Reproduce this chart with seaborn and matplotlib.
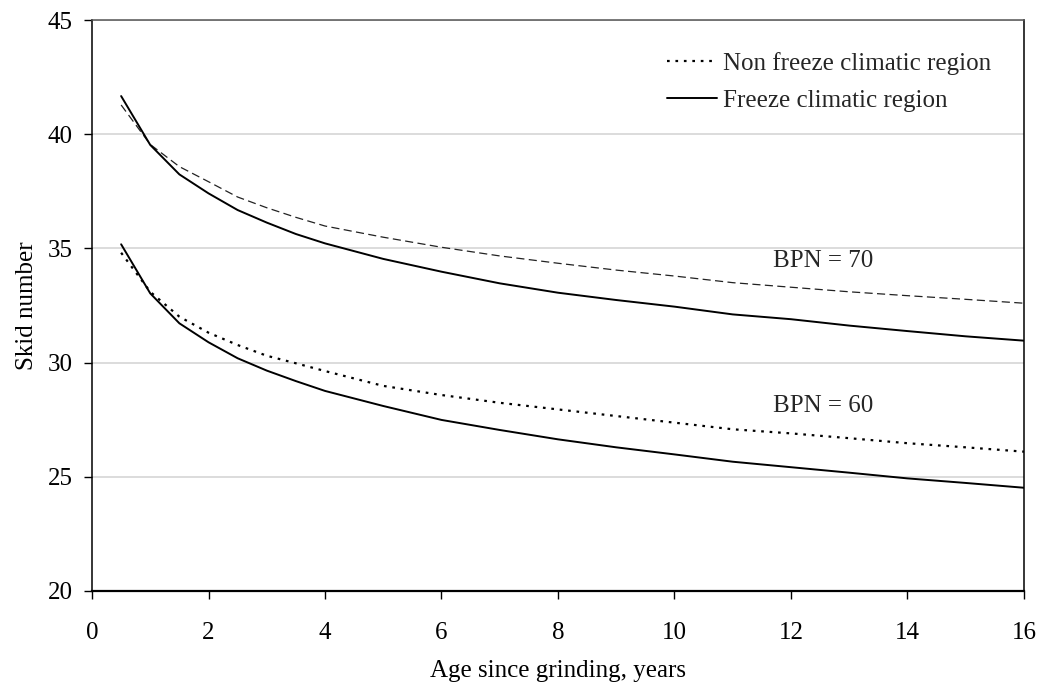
import matplotlib
matplotlib.use("Agg")
import matplotlib.pyplot as plt
import seaborn as sns
import pandas as pd
from matplotlib.lines import Line2D

# ---- data ----
age = [0.5, 1, 1.5, 2, 2.5, 3, 3.5, 4, 5, 6, 7, 8, 9, 10, 11, 12, 13, 14, 15, 16]
bpn70_nonfreeze = [41.28, 39.55, 38.58, 37.92, 37.25, 36.78, 36.36, 35.98, 35.49, 35.05,
                   34.67, 34.35, 34.05, 33.79, 33.50, 33.30, 33.10, 32.93, 32.77, 32.60]
bpn70_freeze = [41.67, 39.53, 38.24, 37.41, 36.68, 36.13, 35.63, 35.22, 34.54, 33.98,
                33.47, 33.06, 32.74, 32.45, 32.11, 31.90, 31.62, 31.38, 31.15, 30.96]
bpn60_nonfreeze = [34.81, 33.10, 32.01, 31.31, 30.77, 30.30, 29.97, 29.63, 28.98, 28.58,
                   28.24, 27.95, 27.66, 27.37, 27.08, 26.90, 26.69, 26.47, 26.29, 26.10]
bpn60_freeze = [35.18, 33.03, 31.72, 30.89, 30.19, 29.65, 29.19, 28.76, 28.10, 27.49,
                27.05, 26.64, 26.29, 25.98, 25.66, 25.42, 25.18, 24.93, 24.73, 24.52]

legend_labels = ["Non freeze climatic region", "Freeze climatic region"]
annotations = ["BPN = 70", "BPN = 60"]
xticks = [0, 2, 4, 6, 8, 10, 12, 14, 16]
yticks = [20, 25, 30, 35, 40, 45]

sns.set_theme(style="white")
plt.rcParams['font.family'] = ['Liberation Serif', 'DejaVu Serif']
FS = 18
plt.rcParams['font.size'] = FS

fig = plt.figure(figsize=(10.42, 6.90), dpi=100)
ax = fig.add_axes([0.0883, 0.1435, 0.8944, 0.8275])

ax.yaxis.grid(True, color="#d9d9d9", linewidth=1.3)
ax.set_axisbelow(True)

dotted = (0, (1.2, 2.6))
series = [
    (bpn70_nonfreeze, dict(color="#222222", linewidth=0.9, linestyle=(0, (6.5, 3.5)))),
    (bpn70_freeze, dict(color="black", linewidth=1.4, linestyle="-")),
    (bpn60_nonfreeze, dict(color="black", linewidth=1.6, linestyle=dotted)),
    (bpn60_freeze, dict(color="black", linewidth=1.4, linestyle="-")),
]
for vals, style in series:
    df = pd.DataFrame({"age": age, "sn": vals})
    sns.lineplot(data=df, x="age", y="sn", ax=ax, **style)

ax.set_xlim(0, 16)
ax.set_ylim(20, 45)
ax.set_xticks(xticks)
ax.set_yticks(yticks)
ax.tick_params(axis="both", labelsize=FS, colors="black", length=6, width=1,
               direction="out", bottom=True, left=True)
ax.tick_params(axis="y", pad=8)
ax.tick_params(axis="x", pad=16)

for s in ["left", "bottom", "right"]:
    ax.spines[s].set_color("black")
    ax.spines[s].set_linewidth(1.1)
ax.spines["bottom"].set_linewidth(1.6)
ax.spines["top"].set_color("#555555")
ax.spines["top"].set_linewidth(1.1)

ax.set_xlabel("Age since grinding, years", fontsize=FS, labelpad=12, color="black")
ax.set_ylabel("Skid number", fontsize=FS, labelpad=7, color="black")

ax.text(12.55, 34.45, annotations[0], fontsize=FS, ha="center", va="center")
ax.text(12.55, 28.1, annotations[1], fontsize=FS, ha="center", va="center")

handles = [
    Line2D([], [], color="black", linewidth=1.6, linestyle=dotted),
    Line2D([], [], color="black", linewidth=1.4, linestyle="-"),
]
leg = ax.legend(handles, legend_labels, loc="upper left",
                bbox_to_anchor=(667 / 1042, 1 - 52 / 690), bbox_transform=fig.transFigure,
                frameon=False, fontsize=FS, handlelength=2.0, handletextpad=0.25,
                labelspacing=0.58, borderpad=0, borderaxespad=0)

fig.savefig("out.png", dpi=100)
